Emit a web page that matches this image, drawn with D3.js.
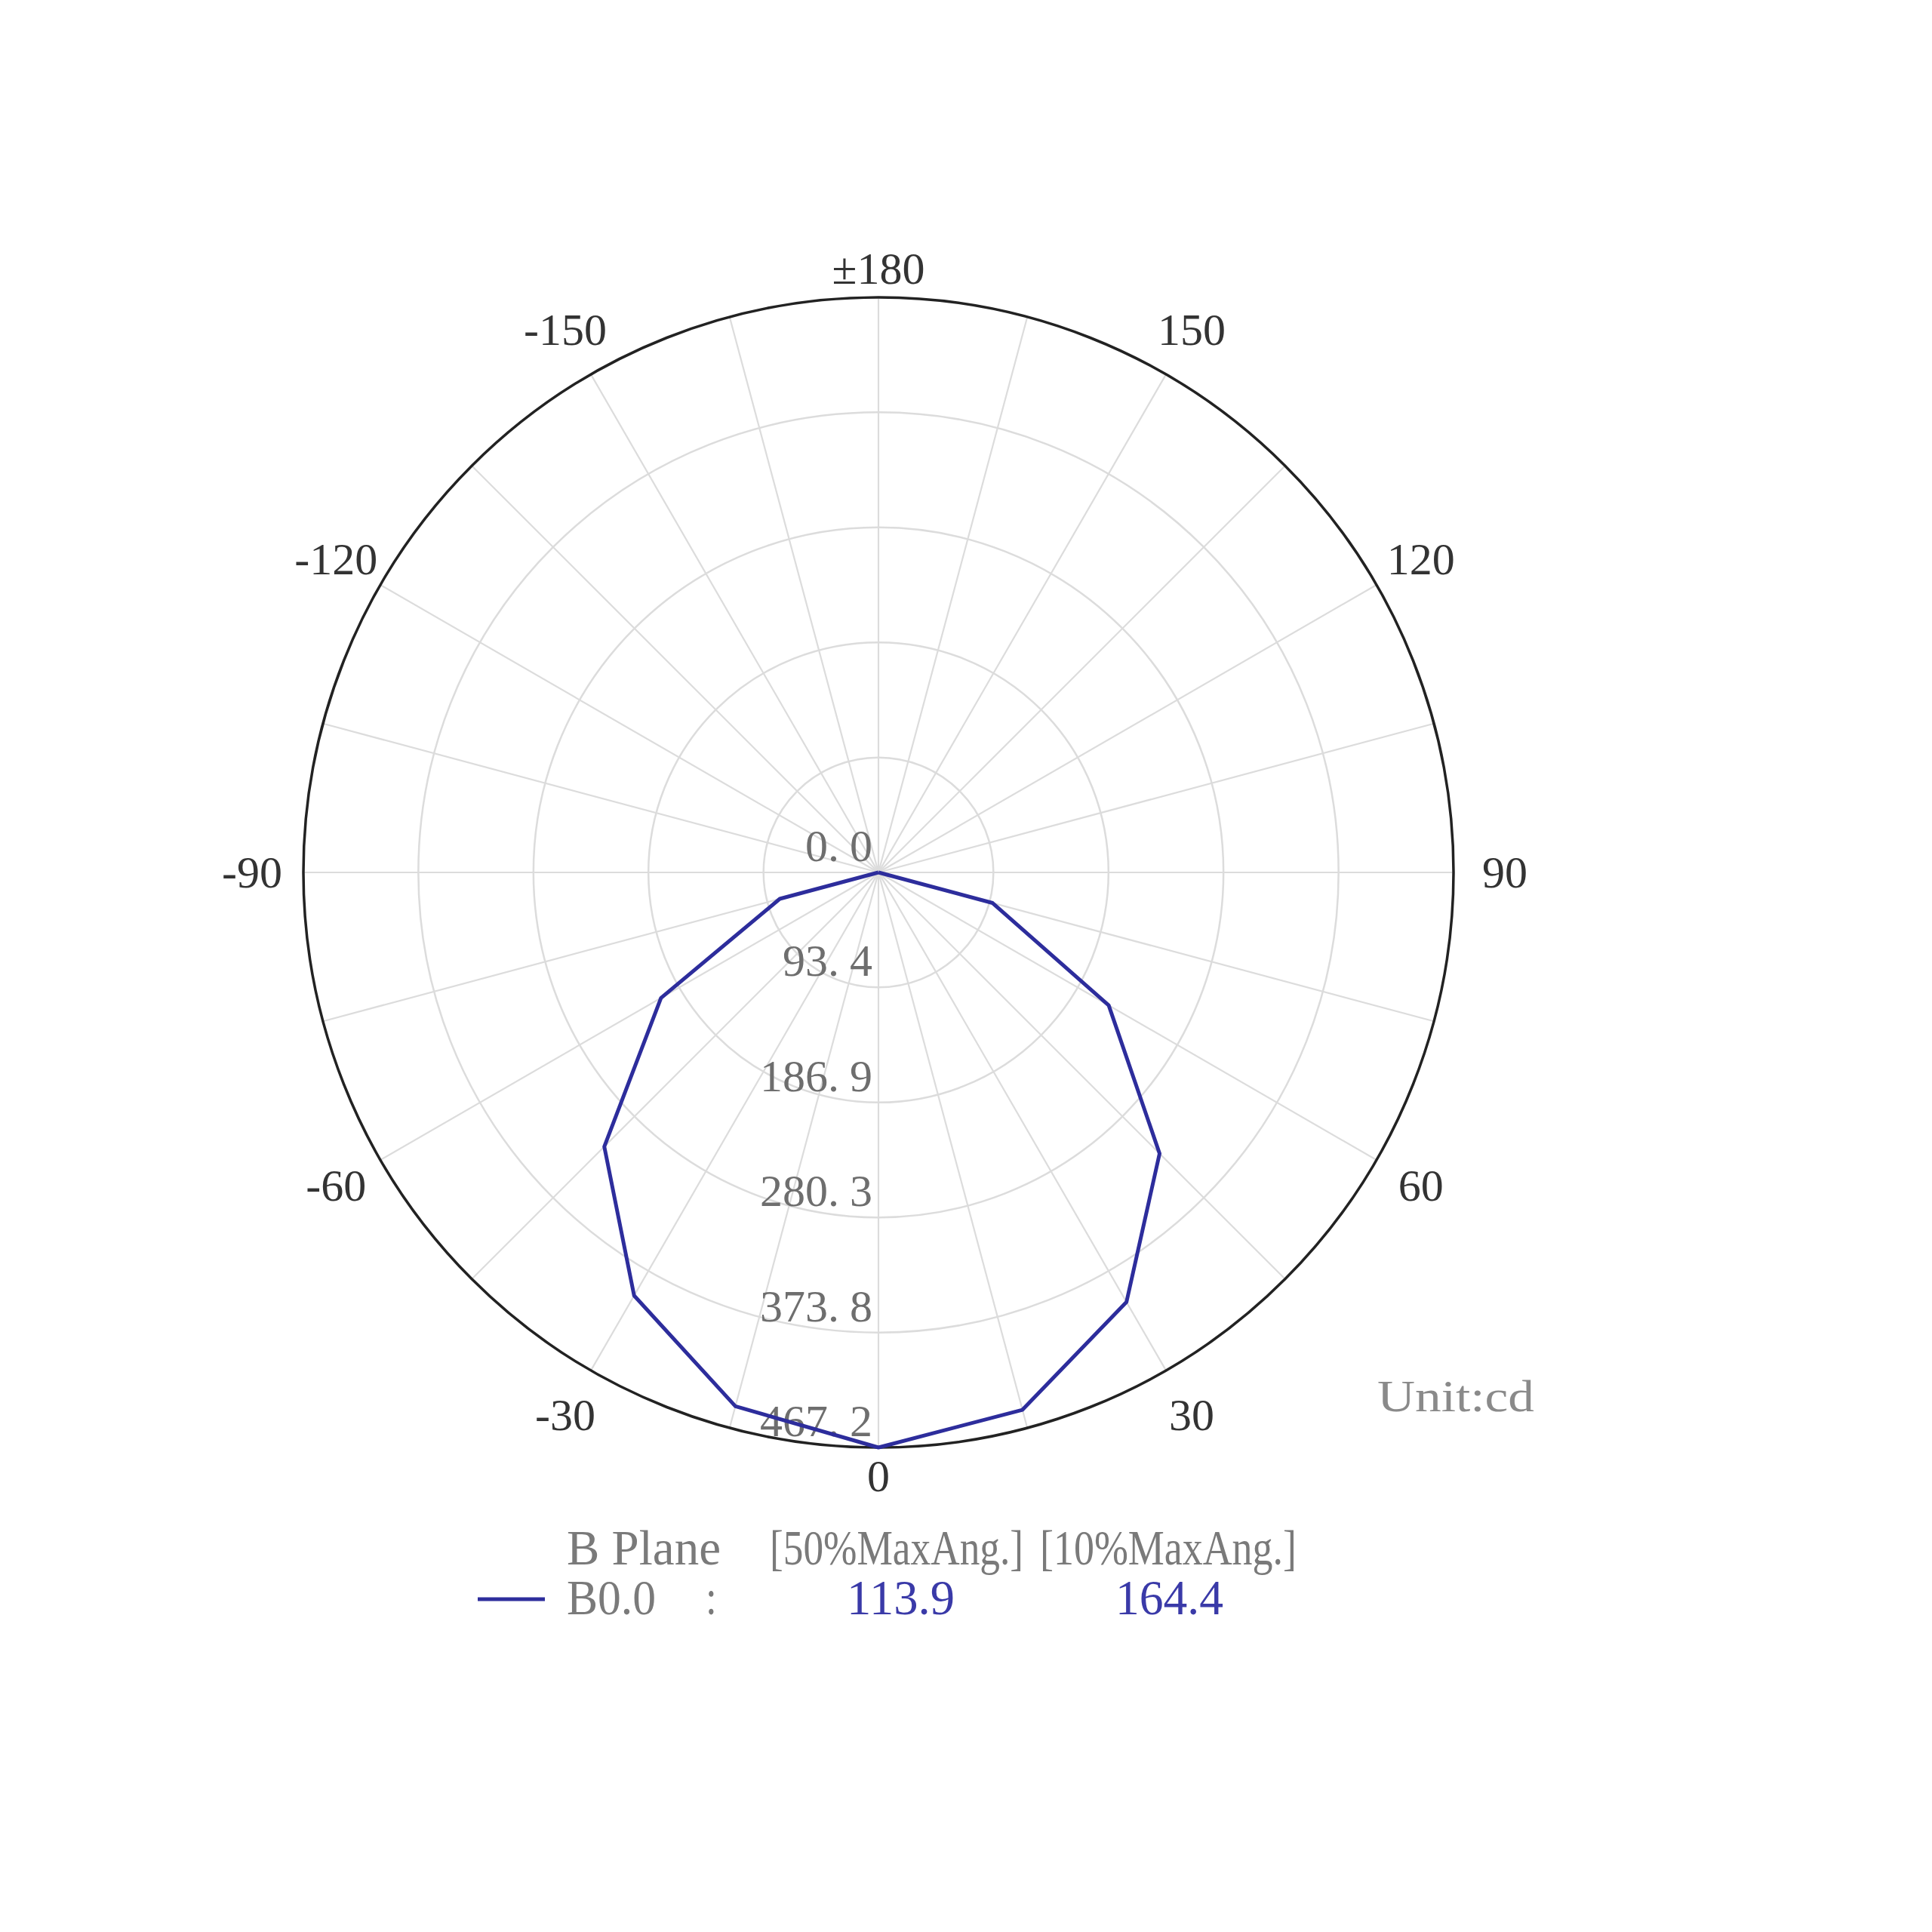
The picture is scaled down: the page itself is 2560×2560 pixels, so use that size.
<!DOCTYPE html>
<html>
<head>
<meta charset="utf-8">
<script src="https://cdn.jsdelivr.net/npm/d3@7"></script>
<style>
  html, body { margin: 0; padding: 0; background: #ffffff; }
  svg { display: block; }
</style>
</head>
<body>
<svg id="chart" width="2560" height="2560"></svg>
<script>
// ---- data ----
const angles = [-180, -165, -150, -135, -120, -105, -90, -75, -60, -45, -30, -15, 0, 15, 30, 45, 60, 75, 90, 105, 120, 135, 150, 165, 180];
const intensity = [0, 0, 0, 0, 0, 0, 0, 83, 204, 315, 397, 449, 467.2, 452, 403, 323, 216, 96, 0, 0, 0, 0, 0, 0, 0];
const ringValues = [0.0, 93.4, 186.9, 280.3, 373.8, 467.2];
const angleTicks = [-150, -120, -90, -60, -30, 0, 30, 60, 90, 120, 150, 180];
const angleTickLabels = ["-150", "-120", "-90", "-60", "-30", "0", "30", "60", "90", "120", "150", "\u00b1180"];
const spokeAngles = d3.range(-180, 180, 15);
const legendHeader = ["B Plane", "[50%MaxAng.]", "[10%MaxAng.]"];
const seriesName = "B0.0";
const beam50 = [113.9];
const beam10 = [164.4];
const unitLabel = "Unit:cd";

// ---- layout ----
const cx = 1164, cy = 1156, R = 762;
const svg = d3.select("#chart");
svg.append("rect").attr("width", 2560).attr("height", 2560).attr("fill", "#ffffff");
const g = svg.append("g").attr("transform", `translate(${cx},${cy})`);

const r = d3.scaleLinear().domain([0, 467.2]).range([0, R]);
// 0° at bottom, positive toward the right
const toRad = d => Math.PI - d * Math.PI / 180;
const px = (d, rr) => rr * Math.sin(toRad(d));
const py = (d, rr) => -rr * Math.cos(toRad(d));

// rings
g.selectAll("circle.ring").data(ringValues.slice(1, -1)).join("circle")
  .attr("class", "ring").attr("r", d => r(d))
  .attr("fill", "none").attr("stroke", "#dcdcdc").attr("stroke-width", 2.5);

// spokes
g.selectAll("line.spoke").data(spokeAngles).join("line")
  .attr("class", "spoke")
  .attr("x1", 0).attr("y1", 0)
  .attr("x2", d => px(d, R)).attr("y2", d => py(d, R))
  .attr("stroke", "#dcdcdc").attr("stroke-width", 2.2);

// outer circle
g.append("circle").attr("r", r(467.2)).attr("fill", "none")
  .attr("stroke", "#222").attr("stroke-width", 3.5);

// ring value labels
const vl = g.selectAll("text.val").data(ringValues).join("text")
  .attr("class", "val")
  .attr("x", -8).attr("y", d => r(d) - 15)
  .attr("text-anchor", "end")
  .attr("font-family", "'Liberation Serif', 'DejaVu Serif', serif")
  .attr("font-size", 60).attr("fill", "#6e6e6e");
vl.each(function(d) {
  const parts = d.toFixed(1).split(".");
  const t = d3.select(this);
  t.append("tspan").text(parts[0] + ".");
  t.append("tspan").attr("dx", 14).text(parts[1]);
});

// curve
const line = d3.lineRadial()
  .angle((d, i) => toRad(angles[i]))
  .radius(d => r(d))
  .curve(d3.curveLinear);
g.append("path").datum(intensity)
  .attr("d", line)
  .attr("fill", "none").attr("stroke", "#2d2d9c")
  .attr("stroke-width", 5).attr("stroke-linejoin", "round");

// angle labels
const labelR = d => (Math.abs(Math.cos(d * Math.PI / 180)) > 0.99) ? 800 : 830;
g.selectAll("text.ang").data(angleTicks).join("text")
  .attr("class", "ang")
  .attr("x", d => px(d, labelR(d)))
  .attr("y", d => py(d, labelR(d)))
  .attr("text-anchor", "middle")
  .attr("dominant-baseline", "central")
  .attr("font-family", "'Liberation Serif', 'DejaVu Serif', serif")
  .attr("font-size", 60).attr("fill", "#333")
  .text((d, i) => angleTickLabels[i]);

// unit
svg.append("text").attr("x", 1825).attr("y", 1870)
  .attr("font-family", "'Liberation Serif', 'DejaVu Serif', serif")
  .attr("font-size", 60).attr("fill", "#8a8a8a")
  .attr("textLength", 208).attr("lengthAdjust", "spacingAndGlyphs")
  .text(unitLabel);

// legend (condensed, tall lettering)
const legFont = "'Liberation Serif', 'DejaVu Serif', serif";
function legText(x, y, w, txt, color) {
  const t = svg.append("text")
    .attr("transform", `translate(${x},${y}) scale(1,1.25)`)
    .attr("x", 0).attr("y", 0)
    .attr("font-family", legFont).attr("font-size", 53).attr("fill", color)
    .text(txt);
  if (w) t.attr("textLength", w).attr("lengthAdjust", "spacingAndGlyphs");
  return t;
}
const hdrX = [751, 1020, 1378], hdrW = [204, 336, 340];
legendHeader.forEach((h, i) => legText(hdrX[i], 2073, hdrW[i], h, "#7a7a7a"));

svg.append("line").attr("x1", 633).attr("x2", 722).attr("y1", 2119).attr("y2", 2119)
  .attr("stroke", "#2d2d9c").attr("stroke-width", 5);
legText(751, 2139, 118, seriesName, "#7a7a7a");
legText(935, 2139, null, ":", "#7a7a7a");
legText(1122, 2139, 143, beam50[0].toFixed(1), "#3a3aa8");
legText(1478, 2139, 143, beam10[0].toFixed(1), "#3a3aa8");
</script>
</body>
</html>
